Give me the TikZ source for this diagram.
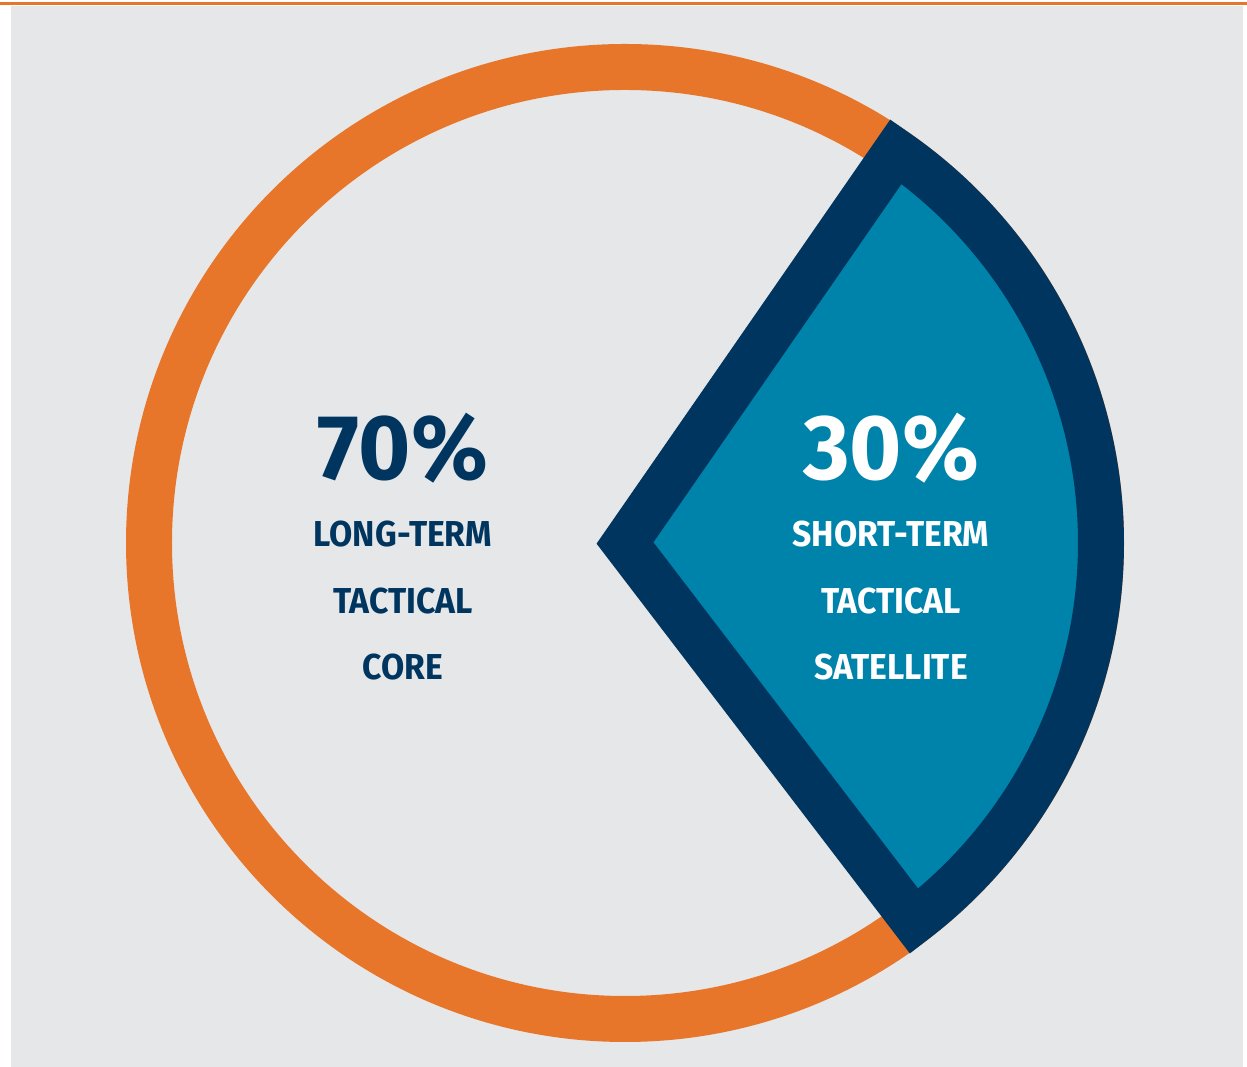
\documentclass[tikz,border=0pt]{standalone}
\usepackage{xcolor}
\usepackage{fontspec}
\setmainfont{Fira Sans}
\newfontfamily\pctfont[FakeStretch=0.97]{Fira Sans}
\newfontfamily\termfont[FakeStretch=0.935]{Fira Sans}
\usepackage{tikz}
\usetikzlibrary{positioning}
\definecolor{ringorange}{HTML}{E8762A}
\definecolor{navyblue}{HTML}{00355F}
\definecolor{tealblue}{HTML}{0083AB}
\definecolor{panelgray}{HTML}{E6E7E8}
\tikzstyle{pct} = [font=\pctfont\fontsize{52.5}{56}\selectfont\bfseries, inner sep=0pt]
\tikzstyle{term} = [font=\termfont\fontsize{20.5}{24}\selectfont\bfseries, inner sep=0pt]

\begin{document}
\begin{tikzpicture}[x=0.02cm, y=0.02cm]
          \useasboundingbox (0,0) rectangle (1247,1067);
          \fill[panelgray] (11,0) rectangle (1243,1061);
          \draw[ringorange, line width=0.06cm] (0,1063) -- (1247,1063);

          \coordinate (c) at (625,524);
          \draw[ringorange, line width=0.92cm] (c) circle[radius=476];
          \draw[navyblue, fill=tealblue, line width=0.92cm, miter limit=10]
              (c) -- ++(-52.6:476) arc[start angle=-52.6, end angle=55.3, radius=476] -- cycle;

          \node[pct, text=navyblue] (core-pct) at (403,619) {70\%};
          \node[term, text=navyblue] (core-1) at (403,533) {LONG-TERM};
          \node[term, text=navyblue] (core-2) at (403,466) {TACTICAL};
          \node[term, text=navyblue] (core-3) at (403,400) {CORE};

          \node[pct, text=white] (sat-pct) at (891,619) {30\%};
          \node[term, text=white] (sat-1) at (891,533) {SHORT-TERM};
          \node[term, text=white] (sat-2) at (891,466) {TACTICAL};
          \node[term, text=white] (sat-3) at (891,400) {SATELLITE};
      \end{tikzpicture}
\end{document}
